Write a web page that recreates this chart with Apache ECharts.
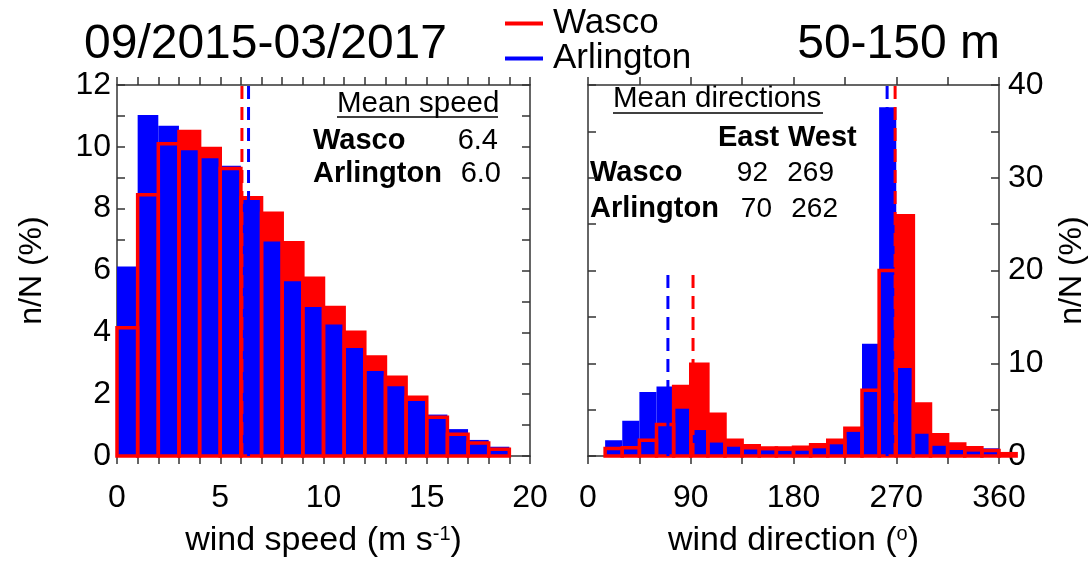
<!DOCTYPE html>
<html lang="en">
<head>
    <meta charset="UTF-8">
    <title>wind histograms</title>
    <style>
        body { margin: 0; background: #fff; }
        #chart1 { width: 1090px; height: 561px; }
    </style>
</head>
<body>
<script src="https://cdn.jsdelivr.net/npm/echarts/dist/echarts.min.js"></script>
<div id="chart1"></div>
<script type="text/javascript">
    // wind speed bins (lower edge, m/s), width 1
    var speedBins = [0, 1, 2, 3, 4, 5, 6, 7, 8, 9, 10, 11, 12, 13, 14, 15, 16, 17, 18];
    var speedWasco = [4.15, 8.45, 10.1, 10.5, 9.95, 9.3, 8.35, 7.85, 6.9, 5.75, 4.8, 4.0, 3.2, 2.55, 1.9, 1.25, 0.7, 0.42, 0.22];
    var speedArlington = [6.13, 11.03, 10.68, 9.89, 9.63, 9.39, 8.28, 6.94, 5.65, 4.82, 4.25, 3.49, 2.75, 2.26, 1.78, 1.34, 0.87, 0.52, 0.30];

    // wind direction bins (lower edge, deg), width 15
    var dirBins = [15, 30, 45, 60, 75, 90, 105, 120, 135, 150, 165, 180, 195, 210, 225, 240, 255, 270, 285, 300, 315, 330, 345, 360];
    var dirWasco = [0.8, 0.9, 1.7, 3.4, 7.5, 9.9, 4.5, 1.7, 1.1, 0.85, 0.85, 0.95, 1.2, 1.7, 3.0, 7.1, 20.0, 25.9, 5.6, 2.3, 1.3, 0.9, 0.6, 0.25];
    var dirArlington = [1.7, 3.8, 6.9, 7.5, 5.1, 2.8, 1.45, 1.0, 0.7, 0.6, 0.55, 0.57, 0.83, 1.26, 2.6, 12.1, 37.6, 9.5, 2.4, 1.1, 0.65, 0.47, 0.83, 0];

    // dashed mean lines: [x, top]
    var speedMeanRed = [[6.05, 12]];
    var speedMeanBlue = [[6.37, 12]];
    var dirMeanRed = [[92, 20], [269, 40]];
    var dirMeanBlue = [[70, 20], [262, 40]];

    // numbers in the text boxes
    var meanSpeedText = ['6.4', '6.0'];
    var meanEast = ['92', '70'];
    var meanWest = ['269', '262'];

    var RED = '#ff0000';
    var BLUE = '#0000ff';
    var FONT = 'Liberation Sans, Arial, sans-serif';

    function bins(edges, width, values) {
        var out = [];
        for (var i = 0; i < edges.length; i++) {
            out.push([edges[i], edges[i] + width, values[i]]);
        }
        return out;
    }

    function barItem(fill, stroke) {
        return function (params, api) {
            var p0 = api.coord([api.value(0), 0]);
            var p1 = api.coord([api.value(1), api.value(2)]);
            return {
                type: 'rect',
                shape: {x: p0[0], y: p1[1], width: p1[0] - p0[0], height: p0[1] - p1[1]},
                style: {fill: fill, stroke: stroke, lineWidth: stroke ? 3.5 : 0}
            };
        };
    }

    function dashItem(color) {
        return function (params, api) {
            var p0 = api.coord([api.value(0), 0]);
            var p1 = api.coord([api.value(0), api.value(1)]);
            return {
                type: 'line',
                shape: {x1: p0[0], y1: p0[1], x2: p1[0], y2: p1[1]},
                style: {stroke: color, lineWidth: 3, lineDash: [13, 8]}
            };
        };
    }

    // panel 0 uses xAxis 0 / yAxis 0, panel 1 uses xAxis 2 / yAxis 2
    function histSeries(name, panel, data, render) {
        return {
            name: name, type: 'custom', xAxisIndex: panel * 2, yAxisIndex: panel * 2,
            renderItem: render, data: data, encode: {x: [0, 1], y: 2},
            itemStyle: {color: name.indexOf('Arlington') === 0 ? BLUE : RED},
            silent: true, animation: false
        };
    }

    function dashSeries(panel, data, color) {
        return {
            type: 'custom', xAxisIndex: panel * 2, yAxisIndex: panel * 2,
            renderItem: dashItem(color), data: data, encode: {x: 0, y: 1}, silent: true
        };
    }

    function xAx(grid, pos, max, interval, split, labels, name) {
        return {
            type: 'value', gridIndex: grid, position: pos, min: 0, max: max, interval: interval,
            axisLine: {show: true, onZero: false, lineStyle: {color: '#333', width: 1.5}},
            axisTick: {show: true, inside: false, length: 8, lineStyle: {color: '#333', width: 1.5}},
            minorTick: {show: true, splitNumber: split, length: 8, lineStyle: {color: '#333', width: 1.5}},
            axisLabel: {show: labels, color: '#000', fontSize: 32, margin: 26, fontFamily: FONT},
            splitLine: {show: false},
            name: name, nameLocation: 'middle', nameGap: 68,
            nameTextStyle: {color: '#000', fontSize: 34, fontFamily: FONT,
                rich: {sup: {fontSize: 20, verticalAlign: 'top', color: '#000', fontFamily: FONT}}}
        };
    }

    function yAx(grid, pos, max, interval, labels, name, gap, margin) {
        return {
            type: 'value', gridIndex: grid, position: pos, min: 0, max: max, interval: interval,
            axisLine: {show: true, onZero: false, lineStyle: {color: '#333', width: 1.5}},
            axisTick: {show: true, inside: true, length: 8, lineStyle: {color: '#333', width: 1.5}},
            minorTick: {show: true, splitNumber: 2, length: 8, lineStyle: {color: '#333', width: 1.5}},
            axisLabel: {show: labels, color: '#000', fontSize: 32, margin: margin, fontFamily: FONT},
            splitLine: {show: false},
            name: name, nameLocation: 'middle', nameRotate: 90, nameGap: gap,
            nameTextStyle: {color: '#000', fontSize: 32, fontFamily: FONT}
        };
    }

    function txt(x, y, s, size, bold, align) {
        return {
            type: 'text', x: x, y: y, silent: true,
            style: {text: s, fontSize: size, fontWeight: bold ? 'bold' : 'normal', fontFamily: FONT,
                fill: '#000', align: align || 'left', verticalAlign: 'middle'}
        };
    }

    function uline(x1, x2, y) {
        return {type: 'line', silent: true, shape: {x1: x1, y1: y, x2: x2, y2: y}, style: {stroke: '#000', lineWidth: 1.5}};
    }

    var myChart1 = echarts.init(document.getElementById('chart1'));

    myChart1.setOption({
        animation: false,
        textStyle: {fontFamily: FONT},
        legend: {
            data: ['Wasco', 'Arlington'], orient: 'vertical', left: 505, top: 6,
            icon: 'rect', itemWidth: 38, itemHeight: 4, itemGap: 0, padding: 0,
            selectedMode: false,
            textStyle: {fontSize: 35, lineHeight: 32, color: '#000', padding: [0, 0, 0, 5]}
        },
        grid: [
            {left: 117, top: 85, width: 413, height: 371, outerBoundsMode: 'none', containLabel: false},
            {left: 588, top: 85, width: 411, height: 371, outerBoundsMode: 'none', containLabel: false}
        ],
        xAxis: [
            xAx(0, 'bottom', 20, 5, 5, true, 'wind speed (m s{sup|-1})'),
            xAx(0, 'top', 20, 5, 5, false, ''),
            xAx(1, 'bottom', 360, 90, 2, true, 'wind direction ({sup|o})'),
            xAx(1, 'top', 360, 90, 2, false, '')
        ],
        yAxis: [
            yAx(0, 'left', 12, 2, true, 'n/N (%)', 69, 6),
            yAx(0, 'right', 12, 2, false, '', 0, 6),
            yAx(1, 'left', 40, 10, false, '', 0, 6),
            yAx(1, 'right', 40, 10, true, 'n/N (%)', 57, 9)
        ],
        series: [
            histSeries('Wasco', 0, bins(speedBins, 1, speedWasco), barItem(RED, null)),
            histSeries('Arlington', 0, bins(speedBins, 1, speedArlington), barItem(BLUE, null)),
            histSeries('Wasco edge', 0, bins(speedBins, 1, speedWasco), barItem('none', RED)),
            histSeries('Wasco', 1, bins(dirBins, 15, dirWasco), barItem(RED, null)),
            histSeries('Arlington', 1, bins(dirBins, 15, dirArlington), barItem(BLUE, null)),
            histSeries('Wasco edge', 1, bins(dirBins, 15, dirWasco), barItem('none', RED)),
            dashSeries(0, speedMeanRed, RED),
            dashSeries(0, speedMeanBlue, BLUE),
            dashSeries(1, dirMeanRed, RED),
            dashSeries(1, dirMeanBlue, BLUE)
        ],
        graphic: [
            txt(84, 45, '09/2015-03/2017', 48, false),
            txt(1000, 45, '50-150 m', 48, false, 'right'),

            txt(337, 104, 'Mean speed', 29.5, false),
            uline(337, 498, 117),
            txt(313, 141, 'Wasco', 29, true),
            txt(498, 141, meanSpeedText[0], 29, false, 'right'),
            txt(313, 174, 'Arlington', 29, true),
            txt(501, 174, meanSpeedText[1], 29, false, 'right'),

            txt(613, 99, 'Mean directions', 29.5, false),
            uline(613, 823, 113),
            txt(718, 138, 'East', 29, true),
            txt(788, 138, 'West', 29, true),
            txt(590, 173, 'Wasco', 29, true),
            txt(768, 173, meanEast[0], 28, false, 'right'),
            txt(834, 173, meanWest[0], 28, false, 'right'),
            txt(590, 209, 'Arlington', 29, true),
            txt(772, 209, meanEast[1], 28, false, 'right'),
            txt(838, 209, meanWest[1], 28, false, 'right')
        ]
    });
</script>
</body>
</html>
